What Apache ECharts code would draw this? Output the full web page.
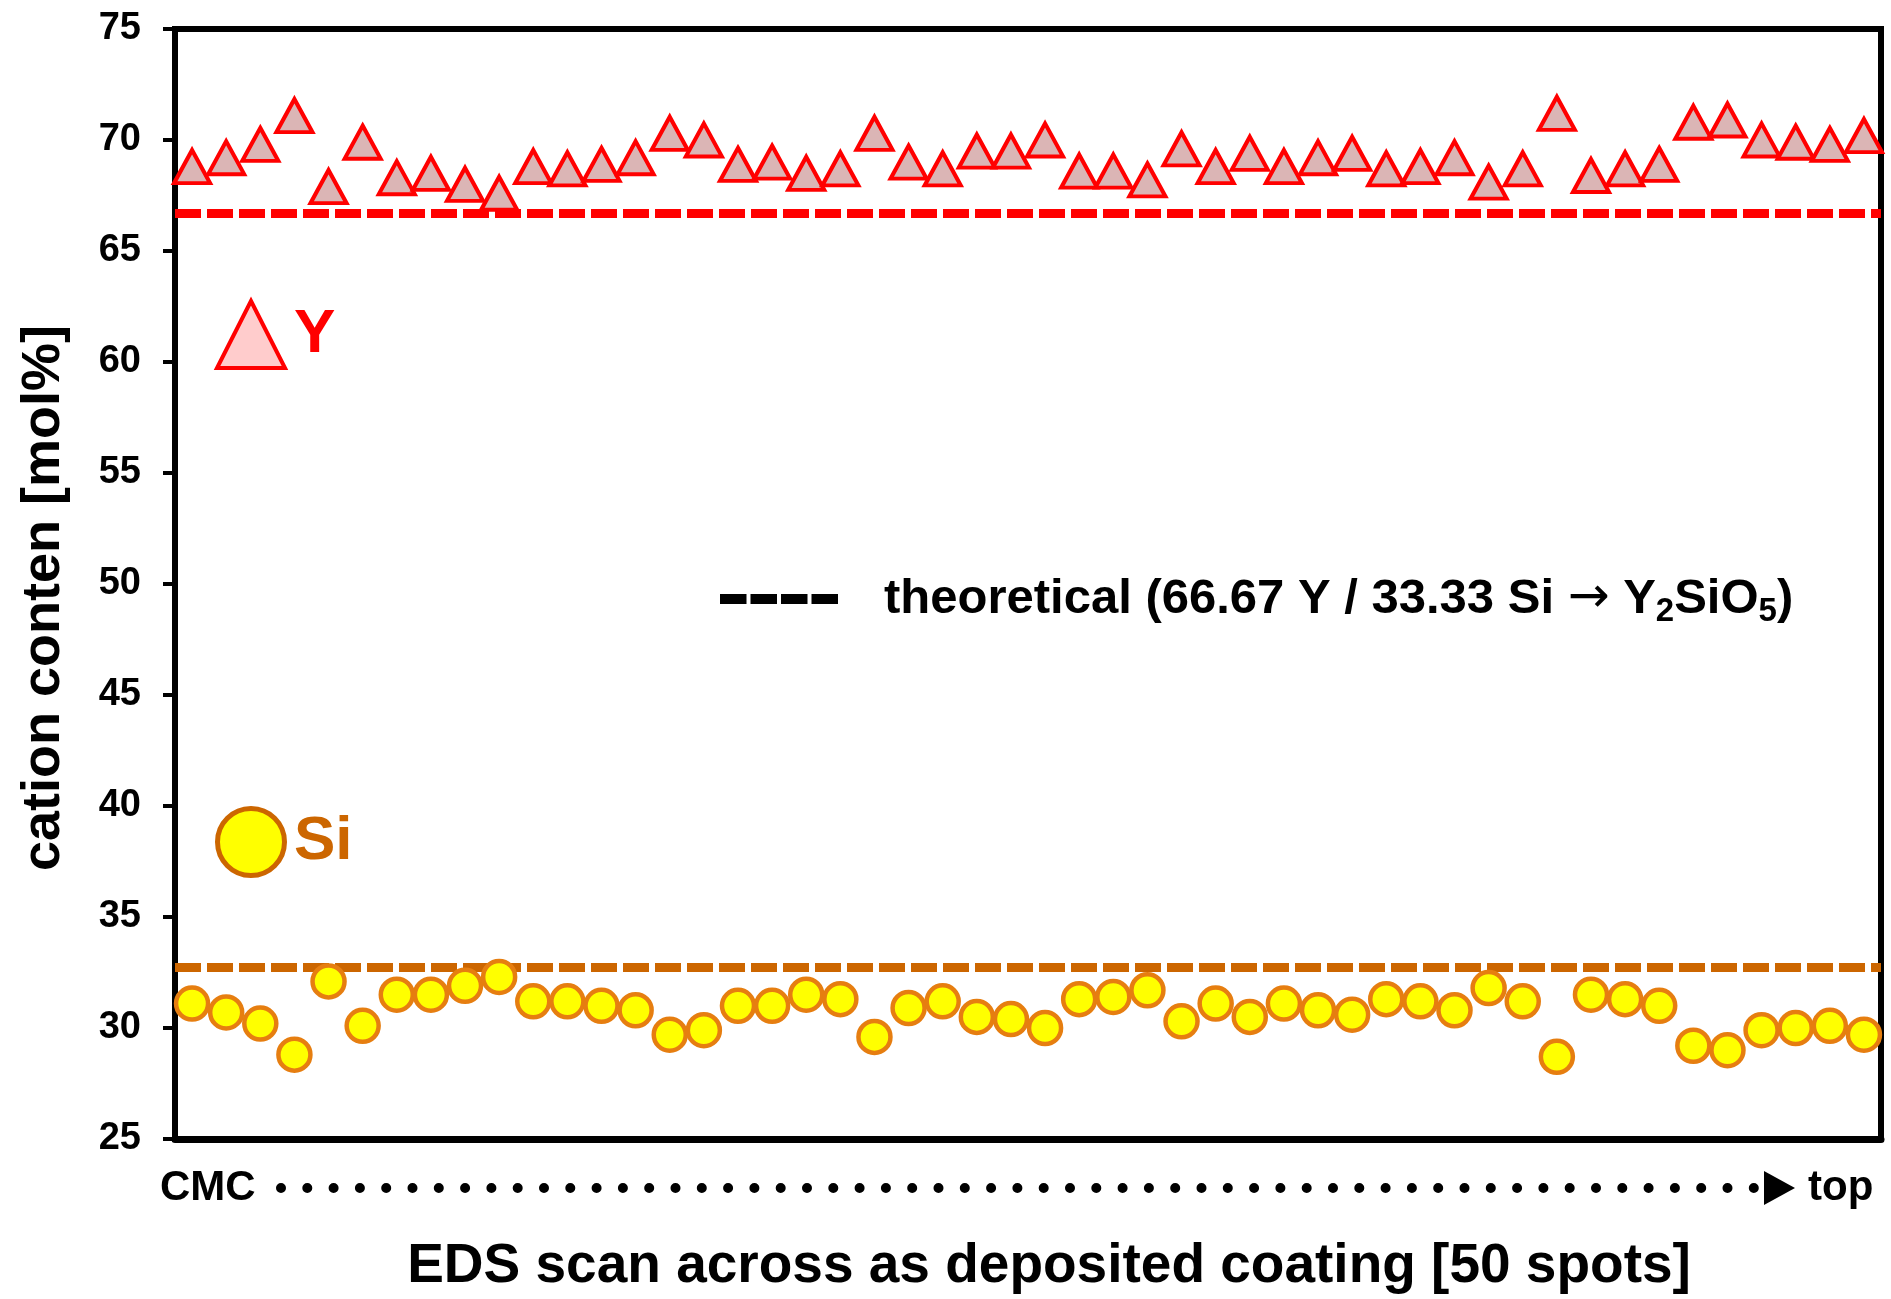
<!DOCTYPE html>
<html>
<head>
<meta charset="utf-8">
<script src="https://cdn.jsdelivr.net/npm/echarts@6/dist/echarts.min.js"></script>
<style>
  html, body { margin: 0; padding: 0; background: #fff; }
  #chart { width: 1891px; height: 1299px; }
</style>
</head>
<body>
<div id="chart"></div>
<script>
// 50 EDS spots, CMC side -> top
var spots = Array.from({ length: 50 }, function (_, i) { return i + 1; });

var yContent = [
  68.8, 69.2, 69.8, 71.1, 67.9, 69.9, 68.3, 68.5, 68.0, 67.6,
  68.8, 68.7, 68.9, 69.2, 70.3, 70.0, 68.9, 69.0, 68.5, 68.7,
  70.3, 69.0, 68.7, 69.5, 69.5, 70.0, 68.6, 68.6, 68.2, 69.6,
  68.8, 69.4, 68.8, 69.2, 69.4, 68.7, 68.8, 69.2, 68.1, 68.7,
  71.2, 68.4, 68.7, 68.9, 70.8, 70.9, 70.0, 69.9, 69.8, 70.2
];

var siContent = [
  31.1, 30.7, 30.2, 28.8, 32.1, 30.1, 31.5, 31.5, 31.9, 32.3,
  31.2, 31.2, 31.0, 30.8, 29.7, 29.9, 31.0, 31.0, 31.5, 31.3,
  29.6, 30.9, 31.2, 30.5, 30.4, 30.0, 31.3, 31.4, 31.7, 30.3,
  31.1, 30.5, 31.1, 30.8, 30.6, 31.3, 31.2, 30.8, 31.8, 31.2,
  28.7, 31.5, 31.3, 31.0, 29.2, 29.0, 29.9, 30.0, 30.1, 29.7
];

// dashed reference lines as drawn in the figure
var yTheory = 66.7;
var siTheory = 32.75;

var yTicks = { min: 25, max: 75, interval: 5 };

var FONT = 'Liberation Sans';

var chart = echarts.init(document.getElementById('chart'));

var option = {
  animation: false,
  backgroundColor: '#fff',
  textStyle: { fontFamily: FONT },
  grid: {
    left: 175, right: 10, top: 29, bottom: 157,
    show: true, borderColor: '#000', borderWidth: 6
  },
  legend: {
    orient: 'vertical',
    left: 210, top: 294,
    itemWidth: 68, itemHeight: 67,
    itemGap: 436,
    selectedMode: false,
    textStyle: { fontSize: 62, fontWeight: 'bold', fontFamily: FONT, padding: [0, 0, 0, 4] },
    data: [
      { name: 'Y', itemStyle: { color: '#ffcccc', borderColor: '#ff0000', borderWidth: 4 }, textStyle: { color: '#ff0000' } },
      { name: 'Si', itemStyle: { color: '#ffff00', borderColor: '#cc6600', borderWidth: 5 }, textStyle: { color: '#cc6600' } }
    ]
  },
  xAxis: {
    type: 'category',
    data: spots,
    boundaryGap: true,
    name: 'EDS scan across as deposited coating [50 spots]',
    nameLocation: 'middle',
    nameGap: 100,
    nameTextStyle: { fontSize: 55, fontWeight: 'bold', color: '#000', fontFamily: FONT, padding: [0, 0, 0, 42] },
    axisLine: { lineStyle: { color: '#000', width: 7 } },
    axisTick: { show: false },
    axisLabel: { show: false },
    splitLine: { show: false }
  },
  yAxis: {
    type: 'value',
    min: yTicks.min, max: yTicks.max, interval: yTicks.interval,
    name: 'cation conten [mol%]',
    nameLocation: 'middle',
    nameGap: 104,
    nameTextStyle: { fontSize: 54, fontWeight: 'bold', color: '#000', fontFamily: FONT, padding: [0, 28, 0, 0] },
    axisLine: { show: true, lineStyle: { color: '#000', width: 6 } },
    axisTick: { show: true, length: 12, lineStyle: { color: '#000', width: 4 } },
    axisLabel: { fontSize: 38, fontWeight: 'bold', color: '#000', margin: 34, fontFamily: FONT },
    splitLine: { show: false }
  },
  series: [
    {
      name: 'Y',
      type: 'scatter',
      data: yContent,
      symbol: 'triangle',
      symbolSize: [36, 33],
      itemStyle: { color: '#dbb5b5', borderColor: '#ff0000', borderWidth: 4, opacity: 1 },
      emphasis: { disabled: true },
      z: 3,
      markLine: {
        silent: true,
        symbol: 'none',
        label: { show: false },
        lineStyle: { color: '#ff0000', type: [26, 6], width: 9 },
        data: [{ yAxis: yTheory }],
        z: 2
      }
    },
    {
      name: 'Si',
      type: 'scatter',
      data: siContent,
      symbol: 'circle',
      symbolSize: 32,
      itemStyle: { color: '#ffff00', borderColor: '#e67e10', borderWidth: 4.5, opacity: 1 },
      emphasis: { disabled: true },
      z: 3,
      markLine: {
        silent: true,
        symbol: 'none',
        label: { show: false },
        lineStyle: { color: '#cc6600', type: [26, 6], width: 9 },
        data: [{ yAxis: siTheory }],
        z: 2
      }
    }
  ],
  graphic: [
    // theoretical key
    {
      type: 'line',
      shape: { x1: 720, y1: 599, x2: 839, y2: 599 },
      style: { stroke: '#000', lineWidth: 10, lineDash: [26.5, 4] }
    },
    {
      type: 'text',
      x: 884, y: 599,
      style: {
        text: '{a|theoretical (66.67 Y / 33.33 Si }{r|→}{a| Y}{s|2}{a|SiO}{s|5}{a|)}',
        verticalAlign: 'middle',
        rich: {
          a: { fontSize: 49, fontWeight: 'bold', fill: '#000', fontFamily: FONT, lineHeight: 58, verticalAlign: 'middle' },
          r: { fontSize: 50, fill: '#000', fontFamily: 'DejaVu Sans', lineHeight: 58, verticalAlign: 'middle' },
          s: { fontSize: 33, fontWeight: 'bold', fill: '#000', fontFamily: FONT, lineHeight: 58, verticalAlign: 'bottom' }
        }
      }
    },
    // CMC ... top direction marker
    {
      type: 'text',
      x: 160, y: 1188,
      style: { text: 'CMC', fontSize: 42, fontWeight: 'bold', fill: '#000', fontFamily: FONT, verticalAlign: 'middle' }
    },
    {
      type: 'line',
      shape: { x1: 281, y1: 1188, x2: 1758, y2: 1188 },
      style: { stroke: '#000', lineWidth: 10, lineCap: 'round', lineDash: [0, 26.3] }
    },
    {
      type: 'polygon',
      shape: { points: [[1764, 1171], [1795, 1188], [1764, 1205]] },
      style: { fill: '#000' }
    },
    {
      type: 'text',
      x: 1808, y: 1188,
      style: { text: 'top', fontSize: 42, fontWeight: 'bold', fill: '#000', fontFamily: FONT, verticalAlign: 'middle' }
    }
  ]
};

chart.setOption(option);
</script>
</body>
</html>
